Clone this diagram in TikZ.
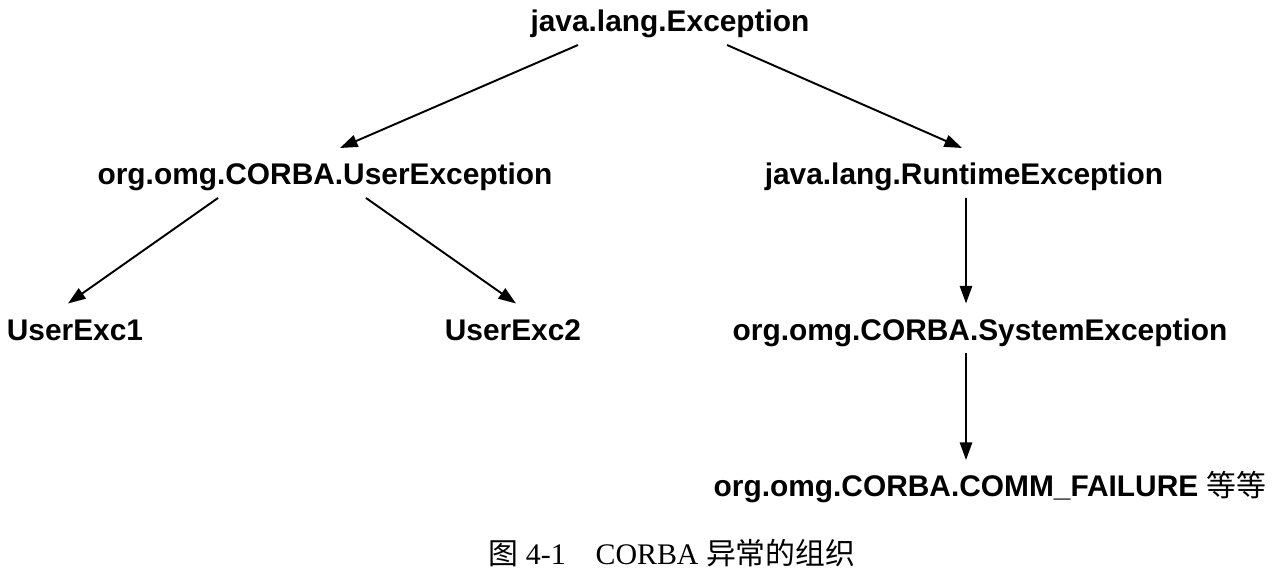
\documentclass[tikz,border=0pt]{standalone}
\usepackage{fontspec}
\setmainfont{Liberation Serif}
\setsansfont{Liberation Sans}
\newfontfamily\cjk{Noto Sans CJK SC}
\usetikzlibrary{arrows.meta}

\begin{document}
\begin{tikzpicture}[
		cls/.style={font=\sffamily\bfseries\fontsize{17}{20}\selectfont, inner sep=0pt, outer sep=0pt, minimum height=1cm, text height=16pt, text depth=2.6pt},
		inh/.style={-{Triangle[length=10pt,width=7pt]}, line width=1.1pt}
	]
				\useasboundingbox (0,0) rectangle (25.44,-11.56);
				% classes
				\node[cls] (exc) at (13.4,-0.4) {java.lang.Exception};
				\node[cls] (user) at (6.5,-3.46) {org.omg.CORBA.UserException};
				\node[cls] (runtime) at (19.28,-3.46) {java.lang.RuntimeException};
				\node[cls] (ue1) at (1.5,-6.57) {UserExc1};
				\node[cls] (ue2) at (10.26,-6.57) {UserExc2};
				\node[cls] (sys) at (19.6,-6.57) {org.omg.CORBA.SystemException};
				\node[cls] (comm) at (19.8,-9.7) {org.omg.CORBA.COMM\_FAILURE {\cjk\mdseries 等等}};
				% caption
				\node[font=\fontsize{17}{20}\selectfont] (cap) at (13.44,-11.06) {{\cjk 图} 4-1\quad CORBA {\cjk 异常的组织}};
				% inheritance
				\draw[inh] ([xshift=-1.84cm]exc.south) -- ([xshift=0.3cm]user.north);
				\draw[inh] ([xshift=1.14cm]exc.south) -- ([xshift=-0.04cm]runtime.north);
				\draw[inh] ([xshift=-2.14cm]user.south) -- ([xshift=-0.14cm]ue1.north);
				\draw[inh] ([xshift=0.82cm]user.south) -- ([xshift=0.06cm]ue2.north);
				\draw[inh] ([xshift=0.04cm]runtime.south) -- ([xshift=-0.28cm]sys.north);
				\draw[inh] ([xshift=-0.28cm]sys.south) -- ([xshift=-0.48cm]comm.north);
\end{tikzpicture}
\end{document}
